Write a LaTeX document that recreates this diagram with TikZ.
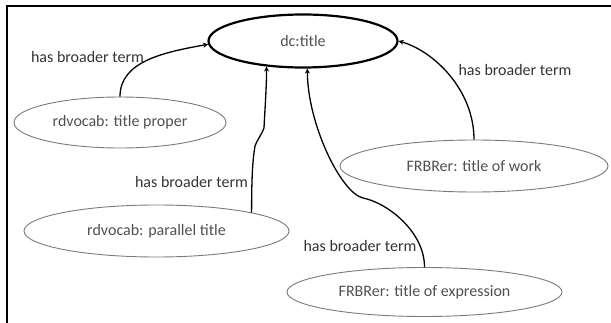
\documentclass[tikz,border=0pt]{standalone}
\usepackage{fontspec}
\setmainfont{Carlito}
\usetikzlibrary{shapes.geometric,arrows.meta}
\definecolor{nodetext}{HTML}{505050}
\definecolor{labeltext}{HTML}{333333}
\definecolor{ellgray}{HTML}{7A7A7A}
\tikzset{
  term/.style={ellipse, draw=ellgray, line width=0.9pt, inner sep=0pt, text=nodetext, font=\fontsize{16}{19}\selectfont},
  topterm/.style={ellipse, draw=black, line width=2.2pt, inner sep=0pt, text=nodetext, font=\fontsize{16}{19}\selectfont},
  rel/.style={draw=black, line width=1.3pt, -{Stealth[length=5pt,width=5pt]}},
  rellabel/.style={inner sep=0pt, text=labeltext, font=\fontsize{16}{19}\selectfont}
}
\begin{document}
\begin{tikzpicture}[x=1pt,y=-1pt]
\useasboundingbox (0,0) rectangle (611,323);
\draw[line width=1.5pt] (7,323) -- (7,6) -- (611,6);
\node[topterm, minimum width=189pt, minimum height=53pt] (dc) at (303,41) {dc:title};
\node[term, minimum width=212pt, minimum height=51pt] (tp) at (120,122.5) {rdvocab: title proper};
\node[term, minimum width=265pt, minimum height=52pt] (pt) at (156.5,231) {rdvocab: parallel title};
\node[term, minimum width=268pt, minimum height=52pt] (wk) at (474,166) {FRBRer: title of work};
\node[term, minimum width=275pt, minimum height=49pt] (ex) at (424.5,292) {FRBRer: title of expression};
\node[rellabel] (l1) at (87.5,57) {has broader term};
\node[rellabel] (l2) at (515,70) {has broader term};
\node[rellabel] (l3) at (191.5,182) {has broader term};
\node[rellabel] (l4) at (360,246) {has broader term};
\draw[rel] (tp.north) .. controls +(0,-35) and +(-45,8) .. (dc.182);
\draw[rel] (wk.north) .. controls +(0,-50) and +(35,10) .. (dc.east);
\draw[rel] (pt.11.5) .. controls +(0,-40) and +(-2,12) .. (255,146)
  .. controls +(2,-6) and +(-2,6) .. (264,128)
  .. controls +(1,-20) and +(0,20) .. (dc.215);
\draw[rel] (ex.north) .. controls +(0,-35) and +(25,5) .. (363,198)
  .. controls +(-22,-5) and +(0,55) .. (dc.279);
\end{tikzpicture}
\end{document}
